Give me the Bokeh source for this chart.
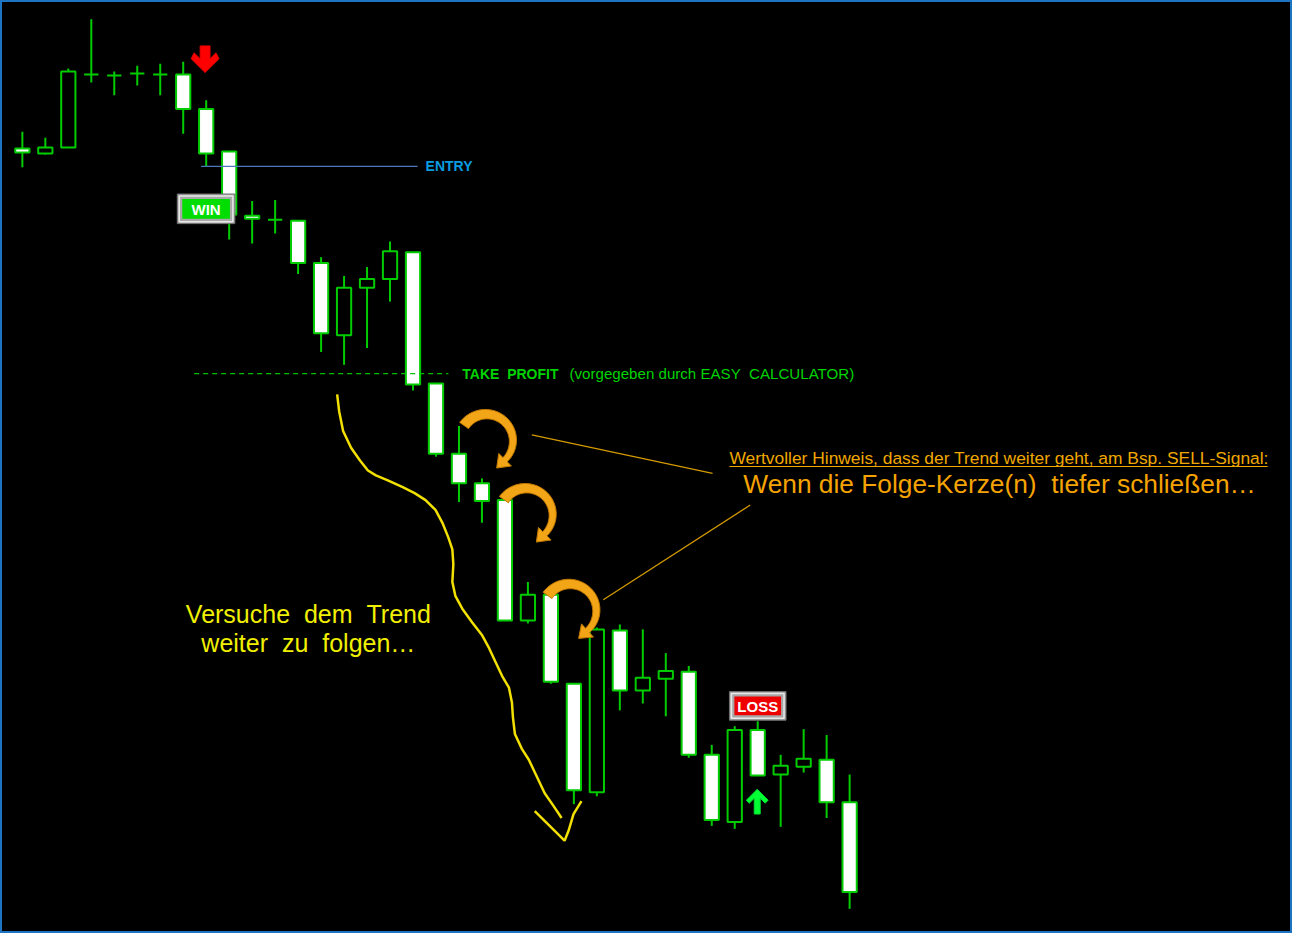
import numpy as np
from bokeh.plotting import figure
from bokeh.models import Range1d
from bokeh.core.properties import value
from bokeh.embed import file_html
from bokeh.resources import INLINE

# ---------------- data (price units) ----------------
candle_idx = list(range(37))
opens  = [84.6, 84.1, 84.7, 92.1, 92.0, 92.2, 92.1, 92.1, 88.6, 84.3, 77.8, 77.4, 77.3,
          73.0, 65.7, 70.5, 71.4, 74.1, 60.8, 53.7, 50.7, 49.0, 36.8, 39.4, 30.4, 19.4,
          35.8, 29.7, 30.9, 31.6, 23.2, 16.4, 25.7, 21.2, 22.0, 22.7, 18.4]
highs  = [86.3, 85.7, 92.7, 97.7, 92.4, 93.0, 93.2, 93.4, 89.5, 84.3, 79.3, 79.4, 77.3,
          73.6, 71.7, 72.6, 75.2, 74.1, 60.8, 56.5, 51.2, 49.3, 40.7, 39.7, 30.4, 36.1,
          36.4, 35.9, 33.5, 32.2, 24.2, 26.1, 26.6, 23.2, 25.8, 25.2, 21.2]
lows   = [82.7, 84.0, 84.7, 91.3, 90.0, 91.0, 90.0, 86.1, 82.8, 75.4, 75.0, 76.0, 71.9,
          64.0, 62.7, 64.4, 69.1, 60.1, 53.4, 48.8, 46.7, 36.8, 36.5, 30.4, 18.2, 19.0,
          27.7, 28.4, 27.1, 22.9, 16.0, 15.7, 21.1, 15.9, 21.4, 16.8, 7.6]
closes = [84.2, 84.7, 92.4, 92.1, 92.0, 92.2, 92.1, 88.6, 84.1, 77.9, 77.5, 77.4, 73.0,
          65.9, 70.5, 71.4, 74.2, 60.7, 53.7, 50.7, 48.9, 36.8, 39.4, 30.6, 19.6, 35.9,
          29.7, 31.0, 31.7, 23.2, 16.6, 25.7, 21.1, 22.1, 22.8, 18.4, 9.3]

entry_price = 82.8
take_profit = 61.8
signal_candle = 8      # red SELL arrow
win_candle = 9
loss_candle = 32

NB = "\u00a0"  # keeps double spaces visible in SVG text

# ---------------- layout helpers (reference pixel -> data) ----------------
W, H = 1292, 933
SP = 23.14
def X(px):
    return (np.asarray(px, dtype=float) - 27.0) / SP
def Y(py):
    return (1000.0 - np.asarray(py, dtype=float)) / 10.0

p = figure(width=W, height=H, output_backend="svg", toolbar_location=None,
           x_axis_location=None, y_axis_location=None, min_border=0,
           x_range=Range1d(float(X(5)), float(X(1306))),
           y_range=Range1d(float(Y(949)), float(Y(4))),
           background_fill_color="black", border_fill_color="black")
p.grid.visible = False
p.outline_line_color = "#1C74C2"
p.outline_line_width = 3

GREEN = "#00CC00"
hw = 0.31

# wicks
p.segment(x0=candle_idx, y0=lows, x1=candle_idx, y1=highs, line_color=GREEN, line_width=2)
# bodies
tops = [max(o, c) for o, c in zip(opens, closes)]
bots = [min(o, c) for o, c in zip(opens, closes)]
fills = ["white" if c < o else "black" for o, c in zip(opens, closes)]
p.quad(left=[i - hw for i in candle_idx], right=[i + hw for i in candle_idx],
       top=tops, bottom=bots, fill_color=fills, line_color=GREEN, line_width=2)

# entry line
p.segment(x0=[signal_candle - 0.22], y0=[entry_price], x1=[X(425)], y1=[entry_price],
          line_color="#4A78B8", line_width=1.2)
p.text(x=[X(433)], y=[entry_price], text=["ENTRY"], text_color="#0A9BE0",
       text_font=value("Liberation Sans"), text_font_style="bold", text_font_size="14px",
       text_baseline="middle", text_align="left")

# take profit line
p.segment(x0=[X(200)], y0=[take_profit], x1=[X(456)], y1=[take_profit],
          line_color="#00C000", line_width=1.2, line_dash="5 4")
p.text(x=[X(470)], y=[take_profit], text=["TAKE" + NB + NB + "PROFIT"], text_color="#00D400",
       text_font=value("Liberation Sans"), text_font_style="bold", text_font_size="14px",
       text_baseline="middle", text_align="left")
p.text(x=[X(578)], y=[take_profit], text=["(vorgegeben durch EASY" + NB + NB + "CALCULATOR)"],
       text_color="#00D400", text_font=value("Liberation Sans"), text_font_size="15.1px",
       text_baseline="middle", text_align="left")

# red sell arrow
ra_x = [206, 216, 216, 222, 225, 211, 197, 200, 206]
ra_y = [50, 50, 63, 57, 63, 77, 63, 57, 63]
p.patch(x=X(ra_x), y=Y(ra_y), fill_color="#FF0000", line_color="#E00000", line_width=1)

# green up arrow
ga_x = [767, 778, 775, 770, 770, 764, 764, 759, 756]
ga_y = [803, 814, 817, 812, 828, 828, 812, 817, 814]
p.patch(x=X(ga_x), y=Y(ga_y), fill_color="#00FF33", line_color="#00E030", line_width=1)

# WIN / LOSS labels
def label(x0, x1, y0, y1, inner, txt):
    p.quad(left=[X(x0)], right=[X(x1)], top=[Y(y0)], bottom=[Y(y1)],
           fill_color="#A8A8A8", line_color="#707070", line_width=1)
    p.quad(left=[X(x0 + 2)], right=[X(x1 - 2)], top=[Y(y0 + 2)], bottom=[Y(y1 - 2)],
           fill_color=None, line_color="#E8E8E8", line_width=1.5)
    p.quad(left=[X(x0 + 5)], right=[X(x1 - 5)], top=[Y(y0 + 5)], bottom=[Y(y1 - 5)],
           fill_color=inner, line_color=None)
    p.text(x=[X((x0 + x1) / 2)], y=[Y((y0 + y1) / 2 + 1)], text=[txt], text_color="white",
           text_font=value("Liberation Sans"), text_font_style="bold", text_font_size="15px",
           text_baseline="middle", text_align="center")

label(183, 241, 200, 230, "#00DD00", "WIN")
label(739, 796, 704, 733, "#EE0000", "LOSS")

# orange curved arrows
def curved_arrow(cx, cy, r, a0, a1, w0, w1, hl, hwid):
    t = np.radians(np.linspace(a0, a1, 60))
    w = np.linspace(w0, w1, 60)
    ox = cx + (r + w / 2) * np.cos(t); oy = cy + (r + w / 2) * np.sin(t)
    ix = cx + (r - w / 2) * np.cos(t); iy = cy + (r - w / 2) * np.sin(t)
    a = np.radians(a1)
    ex, ey = cx + r * np.cos(a), cy + r * np.sin(a)
    tx, ty = -np.sin(a), np.cos(a)
    nx, ny = np.cos(a), np.sin(a)
    hx = [ex + nx * hwid / 2, ex + tx * hl, ex - nx * hwid / 2]
    hy = [ey + ny * hwid / 2, ey + ty * hl, ey - ny * hwid / 2]
    px = np.concatenate([ox, hx, ix[::-1]])
    py = np.concatenate([oy, hy, iy[::-1]])
    p.patch(x=X(px), y=Y(py), fill_color="#F2A516", line_color="#C07800", line_width=1)

curved_arrow(494, 450, 27, 215, 405, 11, 6, 12, 18)
curved_arrow(534, 525, 27, 215, 405, 11, 6, 12, 18)
curved_arrow(578, 622, 27, 215, 408, 11, 6, 12, 18)

# thin orange pointer lines
p.segment(x0=X([540, 612]), y0=Y([444, 611]), x1=X([722, 760]), y1=Y([483, 515]),
          line_color="#D49A00", line_width=1.3)

# explanatory texts (vertically centred on the capital letters)
p.text(x=[X(739)], y=[Y(467)], text=["Wertvoller Hinweis, dass der Trend weiter geht, am Bsp. SELL-Signal:"],
       text_color="#F0A800", text_font=value("Liberation Sans"), text_font_size="17.4px",
       text_baseline="middle", text_align="left")
p.segment(x0=[X(739)], y0=[Y(476)], x1=[X(1281)], y1=[Y(476)], line_color="#F0A800", line_width=1)
p.text(x=[X(753)], y=[Y(494)], text=["Wenn die Folge-Kerze(n)" + NB + NB + "tiefer schließen…"],
       text_color="#F5A300", text_font=value("Liberation Sans"), text_font_size="26.3px",
       text_baseline="middle", text_align="left")

p.text(x=[X(315), X(315)], y=[Y(625), Y(655)],
       text=["Versuche" + NB + NB + "dem" + NB + NB + "Trend", "weiter" + NB + NB + "zu" + NB + NB + "folgen…"],
       text_color="#F0F000", text_font=value("Liberation Sans"), text_font_size="25px",
       text_baseline="middle", text_align="center")

# yellow freehand curve
curve_px = [344, 346, 350, 358, 367, 375, 383, 395, 410, 422, 433, 443, 450, 456, 460, 461, 460,
            463, 470, 480, 490, 497, 503, 510, 517, 520, 521, 523, 530, 537, 545, 553, 562, 570]
curve_py = [403, 420, 440, 457, 470, 480, 485, 490, 497, 503, 510, 520, 533, 548, 560, 575, 593,
            607, 620, 634, 647, 660, 673, 688, 700, 715, 730, 747, 762, 773, 790, 807, 820, 832]
p.line(x=X(curve_px), y=Y(curve_py), line_color="#F2E000", line_width=2.5)
v_px = [543, 558, 573, 577, 582, 590]
v_py = [825, 840, 855, 845, 828, 815]
p.line(x=X(v_px), y=Y(v_py), line_color="#F2E000", line_width=2.5)

open("out.html", "w").write(file_html(p, INLINE))
